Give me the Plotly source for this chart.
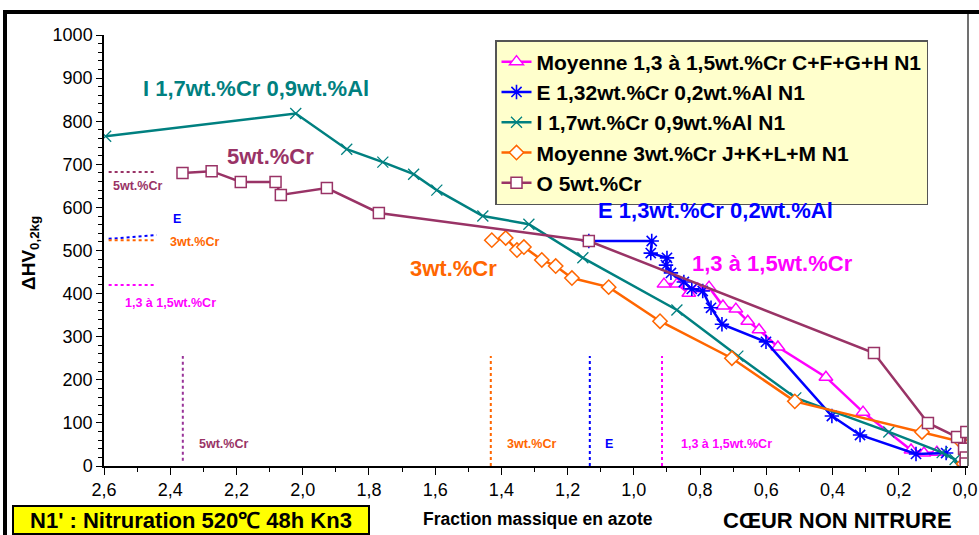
import plotly.graph_objects as go

# ---------------- data ----------------
mag_name = "Moyenne 1,3 à 1,5wt.%Cr C+F+G+H N1"
mag_x = [0.909, 0.870, 0.834, 0.807, 0.773, 0.731, 0.692, 0.656, 0.622, 0.565, 0.420, 0.308, 0.163, 0.124, 0.085]
mag_y = [422, 422, 401, 411, 415, 371, 364, 336, 316, 276, 206, 125, 37, 30, 32]

blue_name = "E 1,32wt.%Cr 0,2wt.%Al N1"
blue_x = [1.136, 0.946, 0.949, 0.900, 0.903, 0.888, 0.849, 0.825, 0.792, 0.767, 0.734, 0.601, 0.402, 0.317, 0.148, 0.057]
blue_y = [522, 522, 494, 483, 466, 448, 427, 411, 406, 367, 329, 288, 116, 72, 28, 30]

teal_name = "I 1,7wt.%Cr 0,9wt.%Al N1"
teal_x = [2.595, 2.021, 1.867, 1.758, 1.665, 1.595, 1.456, 1.317, 1.154, 0.870, 0.686, 0.511, 0.230, 0.069, 0.030, 0.020]
teal_y = [765, 818, 735, 705, 677, 640, 580, 561, 483, 362, 255, 158, 79, 31, 15, 0]

orange_name = "Moyenne 3wt.%Cr J+K+L+M N1"
orange_x = [1.429, 1.387, 1.353, 1.332, 1.278, 1.236, 1.187, 1.076, 0.921, 0.704, 0.514, 0.130, 0.012, 0.004]
orange_y = [524, 529, 501, 508, 478, 464, 436, 415, 336, 250, 150, 79, 56, 5]

purple_name = "O 5wt.%Cr"
purple_x = [2.363, 2.275, 2.187, 2.082, 2.066, 1.927, 1.770, 1.136, 0.275, 0.112, 0.024, -0.004, 0.003, -0.002, -0.002]
purple_y = [680, 684, 659, 659, 629, 645, 587, 522, 262, 100, 67, 79, 40, 20, 6]

x_tickvals = [2.6, 2.4, 2.2, 2.0, 1.8, 1.6, 1.4, 1.2, 1.0, 0.8, 0.6, 0.4, 0.2, 0.0]
x_ticktext = ["2,6", "2,4", "2,2", "2,0", "1,8", "1,6", "1,4", "1,2", "1,0", "0,8", "0,6", "0,4", "0,2", "0,0"]

# reference dotted levels (surface hardness) and depths
level_5cr = 682
level_E = [527, 536]
level_3cr = 524
level_13cr = 420
depth_5cr = 2.362
depth_3cr = 1.432
depth_E = 1.133
depth_13cr = 0.915

# ---------------- styles ----------------
C_MAG = "#FF00FF"
C_BLUE = "#0000FF"
C_TEAL = "#008080"
C_ORA = "#FF6600"
C_PUR = "#993366"
FONT = "Liberation Sans, Arial, sans-serif"

fig = go.Figure()

def add(name, x, y, color, symbol, size, fill="white", lw=1.5, group="g"):
    fig.add_trace(go.Scatter(
        x=x, y=y, name=name, mode="lines+markers", legendgroup=group,
        line=dict(color=color, width=2.5),
        marker=dict(symbol=symbol, size=size, color=fill, line=dict(color=color, width=lw)),
    ))

add(mag_name, mag_x, mag_y, C_MAG, "triangle-up", 12, group="a")
add(blue_name, blue_x, blue_y, C_BLUE, "asterisk-open", 12, fill=C_BLUE, lw=1.6, group="b")
add(teal_name, teal_x, teal_y, C_TEAL, "x-thin-open", 11, fill=C_TEAL, lw=1.3, group="c")
add(orange_name, orange_x, orange_y, C_ORA, "diamond", 11, group="d")
add(purple_name, purple_x, purple_y, C_PUR, "square", 11, group="e")

def dotted(x, y, color):
    fig.add_trace(go.Scatter(x=x, y=y, mode="lines", showlegend=False, hoverinfo="skip",
                             line=dict(color=color, width=2, dash="dot")))

dotted([2.586, 2.441], [level_5cr, level_5cr], C_PUR)
dotted([2.586, 2.441], level_E, C_BLUE)
dotted([2.586, 2.441], [level_3cr, level_3cr], C_ORA)
dotted([2.586, 2.441], [level_13cr, level_13cr], C_MAG)
dotted([depth_5cr, depth_5cr], [12, 255], "#993399")
dotted([depth_3cr, depth_3cr], [0, 255], C_ORA)
dotted([depth_E, depth_E], [0, 255], C_BLUE)
dotted([depth_13cr, depth_13cr], [0, 255], C_MAG)

ann = []
def txt(x, y, s, color, size, xref="x", yref="y", family=FONT, **kw):
    d = dict(x=x, y=y, xref=xref, yref=yref, text=s, showarrow=False,
             xanchor="center", yanchor="middle",
             font=dict(family=family, size=size, color=color, weight="bold"))
    d.update(kw)
    ann.append(d)

def px(xp):
    return (xp - 104) / 864

def py(yp):
    return (466 - yp) / 431

# big series labels
txt(2.142, 877, "I 1,7wt.%Cr 0,9wt.%Al", C_TEAL, 22)
txt(2.097, 717, "5wt.%Cr", C_PUR, 22)
txt(1.544, 459, "3wt.%Cr", C_ORA, 22)
txt(0.752, 592, "E 1,3wt.%Cr 0,2wt.%Al", C_BLUE, 22)
txt(0.580, 471, "1,3 à 1,5wt.%Cr", C_MAG, 22)

# small labels
txt(2.50, 650, "5wt.%Cr", C_PUR, 12.5)
txt(2.38, 573, "E", C_BLUE, 12.5)
txt(2.326, 520, "3wt.%Cr", C_ORA, 12.5)
txt(2.40, 378, "1,3 à 1,5wt.%Cr", C_MAG, 12.5)
txt(2.24, 51, "5wt.%Cr", C_PUR, 12.5)
txt(1.31, 51, "3wt.%Cr", C_ORA, 12.5)
txt(1.075, 51, "E", C_BLUE, 12.5)
txt(0.72, 51, "1,3 à 1,5wt.%Cr", C_MAG, 12.5)

# y axis title
txt(px(30), py(253), "ΔHV<sub>0,2kg</sub>", "black", 19, xref="paper", yref="paper", textangle=-90)
# bottom texts
txt(px(538), py(519), "Fraction massique en azote", "black", 17.5, xref="paper", yref="paper")
txt(px(837), py(520), "CŒUR NON NITRURE", "black", 22, xref="paper", yref="paper")
txt(px(191), py(520), "N1' : Nitruration 520℃ 48h Kn3", "black", 22, xref="paper", yref="paper",
    bgcolor="#FFFF00", bordercolor="black", borderwidth=2, borderpad=1, width=352, height=24)

shapes = [
    dict(type="rect", xref="paper", yref="paper", x0=px(5), x1=1.2,
         y0=-0.3, y1=py(12), line=dict(color="black", width=4)),
    dict(type="line", xref="paper", yref="paper", x0=1, x1=1, y0=0, y1=py(14),
         line=dict(color="#707070", width=2)),
]

fig.update_layout(
    width=979, height=535,
    margin=dict(l=104, r=11, t=35, b=69, autoexpand=False),
    paper_bgcolor="white", plot_bgcolor="white",
    annotations=ann, shapes=shapes,
    showlegend=True,
    legend=dict(x=px(495), y=py(40), xanchor="left", yanchor="top",
                bgcolor="#FFFFCC", bordercolor="#555555", borderwidth=1.5,
                font=dict(family=FONT, size=21, color="black", weight="bold"),
                tracegroupgap=0, itemwidth=30, traceorder="normal"),
    xaxis=dict(range=[2.6, -0.009], showgrid=False, zeroline=False, showline=True, automargin=False,
               linecolor="black", linewidth=1.5, ticks="outside", ticklen=7, tickwidth=1,
               tickcolor="black", tickvals=x_tickvals, ticktext=x_ticktext,
               tickfont=dict(family=FONT, size=18, color="black"),
               minor=dict(dtick=0.1, tick0=0, ticks="outside", ticklen=4, tickcolor="black")),
    yaxis=dict(range=[0, 1000], showgrid=False, zeroline=False, showline=True, automargin=False,
               linecolor="black", linewidth=1.5, ticks="outside", ticklen=6, tickwidth=1,
               tickcolor="black", dtick=100, tick0=0,
               tickfont=dict(family=FONT, size=18, color="black"),
               minor=dict(dtick=20, ticks="outside", ticklen=4, tickcolor="black")),
)

fig.write_html("out.html", config={"displayModeBar": False},
               post_script="document.body.style.margin='0';document.body.style.overflow='hidden';")
